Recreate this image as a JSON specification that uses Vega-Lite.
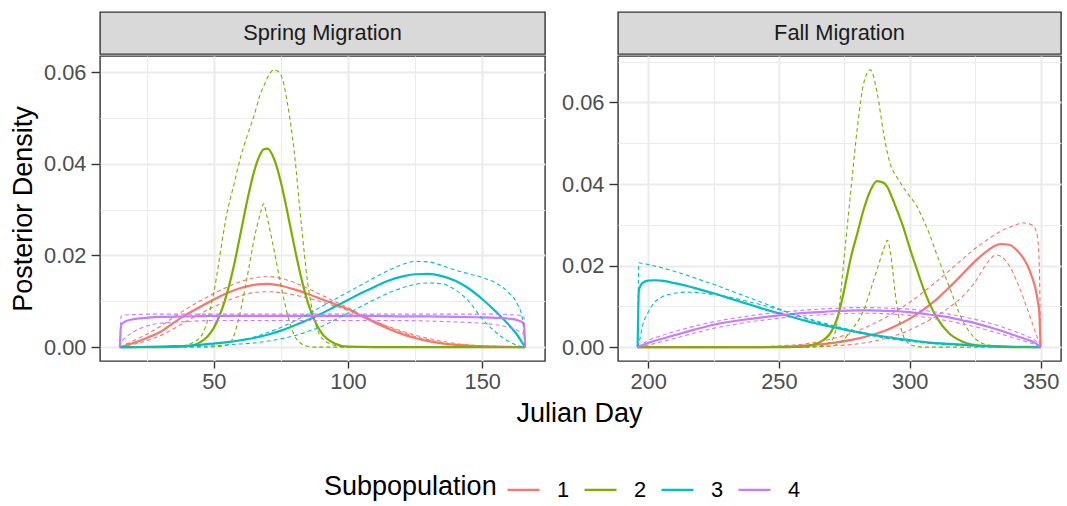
{
  "$schema": "https://vega.github.io/schema/vega-lite/v6.json",
  "background": "white",
  "padding": {"left": 8, "top": 11, "right": 5, "bottom": 5},
  "config": {
    "font": "Liberation Sans",
    "view": {"stroke": "#333333", "strokeWidth": 1.4},
    "axis": {
      "domain": false,
      "gridColor": "#ebebeb",
      "tickColor": "#333333",
      "tickWidth": 1.4,
      "tickSize": 7,
      "labelFont": "Liberation Sans",
      "labelFontSize": 21.8,
      "labelColor": "#4d4d4d",
      "labelPadding": 3,
      "labelFlush": false,
      "labelOverlap": false,
      "titleFont": "Liberation Sans",
      "titleFontSize": 27,
      "titleFontWeight": "normal",
      "titleColor": "black"
    },
    "axisY": {"tickSize": 9, "labelPadding": 5},
    "legend": {
      "direction": "horizontal",
      "titleOrient": "left",
      "titleAnchor": "middle",
      "titleBaseline": "middle",
      "titleFont": "Liberation Sans",
      "titleFontSize": 27,
      "titleFontWeight": "normal",
      "titleColor": "black",
      "labelFont": "Liberation Sans",
      "labelFontSize": 21.8,
      "labelColor": "black",
      "symbolType": "stroke",
      "symbolSize": 1024,
      "symbolStrokeWidth": 2.2,
      "labelOffset": 16,
      "columnPadding": 10,
      "titlePadding": 9,
      "padding": 0
    }
  },
  "datasets": {
    "spring": [
      {"g":"1","d":15,"m":0,"a":0,"b":0},
      {"g":"1","d":20,"m":0.0009,"a":0.0014,"b":0.0006},
      {"g":"1","d":25,"m":0.002,"a":0.0028,"b":0.0014},
      {"g":"1","d":30,"m":0.0033,"a":0.0045,"b":0.0025},
      {"g":"1","d":35,"m":0.0053,"a":0.0065,"b":0.004},
      {"g":"1","d":40,"m":0.0072,"a":0.0084,"b":0.0057},
      {"g":"1","d":45,"m":0.0088,"a":0.0101,"b":0.0073},
      {"g":"1","d":50,"m":0.0104,"a":0.0117,"b":0.0088},
      {"g":"1","d":55,"m":0.0118,"a":0.0131,"b":0.0101},
      {"g":"1","d":60,"m":0.0129,"a":0.0143,"b":0.0112},
      {"g":"1","d":65,"m":0.0136,"a":0.0151,"b":0.0119},
      {"g":"1","d":70,"m":0.0138,"a":0.0154,"b":0.0121},
      {"g":"1","d":75,"m":0.0134,"a":0.015,"b":0.0119},
      {"g":"1","d":80,"m":0.0126,"a":0.0141,"b":0.0114},
      {"g":"1","d":85,"m":0.0116,"a":0.0128,"b":0.0107},
      {"g":"1","d":90,"m":0.0105,"a":0.0114,"b":0.0099},
      {"g":"1","d":95,"m":0.0094,"a":0.01,"b":0.009},
      {"g":"1","d":100,"m":0.0083,"a":0.0086,"b":0.008},
      {"g":"1","d":105,"m":0.0068,"a":0.0071,"b":0.0068},
      {"g":"1","d":110,"m":0.0054,"a":0.0057,"b":0.0056},
      {"g":"1","d":115,"m":0.004,"a":0.0044,"b":0.0045},
      {"g":"1","d":120,"m":0.0029,"a":0.0033,"b":0.0035},
      {"g":"1","d":125,"m":0.002,"a":0.0023,"b":0.0026},
      {"g":"1","d":130,"m":0.0013,"a":0.0016,"b":0.0019},
      {"g":"1","d":135,"m":0.0008,"a":0.001,"b":0.0013},
      {"g":"1","d":140,"m":0.0005,"a":0.0006,"b":0.0008},
      {"g":"1","d":145,"m":0.0003,"a":0.0004,"b":0.0005},
      {"g":"1","d":150,"m":0.0002,"a":0.0002,"b":0.0003},
      {"g":"1","d":155,"m":0.0001,"a":0.0001,"b":0.0002},
      {"g":"1","d":160,"m":0.00005,"a":0.00005,"b":0.0001},
      {"g":"1","d":166,"m":0,"a":0,"b":0},

      {"g":"2","d":15,"m":0,"a":0,"b":0},
      {"g":"2","d":30,"m":0,"a":0,"b":0},
      {"g":"2","d":35,"m":0.00003,"a":0.0001,"b":0},
      {"g":"2","d":40,"m":0.0002,"a":0.0005,"b":0},
      {"g":"2","d":45,"m":0.0011,"a":0.0022,"b":0},
      {"g":"2","d":47.5,"m":0.0022,"a":0.0055,"b":0},
      {"g":"2","d":50,"m":0.0042,"a":0.012,"b":0.0001},
      {"g":"2","d":55,"m":0.0119,"a":0.0295,"b":0.0004},
      {"g":"2","d":57.5,"m":0.0178,"a":0.0355,"b":0.0025},
      {"g":"2","d":60,"m":0.0249,"a":0.0415,"b":0.008},
      {"g":"2","d":62.5,"m":0.0321,"a":0.0462,"b":0.0155},
      {"g":"2","d":65,"m":0.0383,"a":0.0505,"b":0.0235},
      {"g":"2","d":67.5,"m":0.0423,"a":0.0555,"b":0.0295},
      {"g":"2","d":68.5,"m":0.0431,"a":0.0568,"b":0.0313},
      {"g":"2","d":70,"m":0.0433,"a":0.0588,"b":0.028},
      {"g":"2","d":72.5,"m":0.041,"a":0.0605,"b":0.021},
      {"g":"2","d":75,"m":0.036,"a":0.0594,"b":0.0136},
      {"g":"2","d":77.5,"m":0.0292,"a":0.053,"b":0.007},
      {"g":"2","d":80,"m":0.022,"a":0.0425,"b":0.0026},
      {"g":"2","d":82.5,"m":0.0153,"a":0.0275,"b":0.0008},
      {"g":"2","d":85,"m":0.0098,"a":0.014,"b":0.0002},
      {"g":"2","d":87.5,"m":0.0059,"a":0.006,"b":0},
      {"g":"2","d":90,"m":0.0032,"a":0.0022,"b":0},
      {"g":"2","d":95,"m":0.0008,"a":0.0004,"b":0},
      {"g":"2","d":100,"m":0.0001,"a":0,"b":0},
      {"g":"2","d":110,"m":0,"a":0,"b":0},
      {"g":"2","d":166,"m":0,"a":0,"b":0},

      {"g":"3","d":15,"m":0,"a":0,"b":0},
      {"g":"3","d":20,"m":0.00002,"a":0.00002,"b":0},
      {"g":"3","d":25,"m":0.00005,"a":0.00005,"b":0.00001},
      {"g":"3","d":30,"m":0.0001,"a":0.0001,"b":0.00003},
      {"g":"3","d":35,"m":0.0002,"a":0.0002,"b":0.00005},
      {"g":"3","d":40,"m":0.0003,"a":0.0003,"b":0.0001},
      {"g":"3","d":45,"m":0.0005,"a":0.0005,"b":0.0002},
      {"g":"3","d":50,"m":0.0008,"a":0.0007,"b":0.0003},
      {"g":"3","d":55,"m":0.0011,"a":0.001,"b":0.0005},
      {"g":"3","d":60,"m":0.0015,"a":0.0015,"b":0.0007},
      {"g":"3","d":65,"m":0.002,"a":0.0022,"b":0.0009},
      {"g":"3","d":70,"m":0.0027,"a":0.0032,"b":0.0013},
      {"g":"3","d":75,"m":0.0036,"a":0.0043,"b":0.0018},
      {"g":"3","d":80,"m":0.0047,"a":0.0057,"b":0.0025},
      {"g":"3","d":85,"m":0.0059,"a":0.0072,"b":0.0034},
      {"g":"3","d":90,"m":0.0073,"a":0.0088,"b":0.0045},
      {"g":"3","d":95,"m":0.0088,"a":0.0104,"b":0.0059},
      {"g":"3","d":100,"m":0.0103,"a":0.012,"b":0.0074},
      {"g":"3","d":105,"m":0.0118,"a":0.0136,"b":0.0089},
      {"g":"3","d":110,"m":0.0132,"a":0.0152,"b":0.0104},
      {"g":"3","d":115,"m":0.0145,"a":0.0167,"b":0.0118},
      {"g":"3","d":120,"m":0.0154,"a":0.018,"b":0.0129},
      {"g":"3","d":125,"m":0.0159,"a":0.0187,"b":0.0137},
      {"g":"3","d":130,"m":0.016,"a":0.0186,"b":0.014},
      {"g":"3","d":135,"m":0.0155,"a":0.0178,"b":0.0138},
      {"g":"3","d":140,"m":0.0145,"a":0.0168,"b":0.0125},
      {"g":"3","d":145,"m":0.0128,"a":0.016,"b":0.01},
      {"g":"3","d":150,"m":0.0105,"a":0.0152,"b":0.0062},
      {"g":"3","d":155,"m":0.0078,"a":0.014,"b":0.0033},
      {"g":"3","d":160,"m":0.0048,"a":0.0118,"b":0.0012},
      {"g":"3","d":163,"m":0.0027,"a":0.0095,"b":0.0004},
      {"g":"3","d":165,"m":0.0009,"a":0.0062,"b":0.0001},
      {"g":"3","d":166,"m":0,"a":0,"b":0},

      {"g":"4","d":15,"m":0,"a":0,"b":0},
      {"g":"4","d":15.5,"m":0.0049,"a":0.0068,"b":0.001},
      {"g":"4","d":17,"m":0.0056,"a":0.007,"b":0.002},
      {"g":"4","d":20,"m":0.0061,"a":0.0071,"b":0.0033},
      {"g":"4","d":25,"m":0.0064,"a":0.0072,"b":0.0046},
      {"g":"4","d":30,"m":0.0066,"a":0.0072,"b":0.0052},
      {"g":"4","d":40,"m":0.0067,"a":0.0072,"b":0.0056},
      {"g":"4","d":50,"m":0.0068,"a":0.0072,"b":0.0058},
      {"g":"4","d":70,"m":0.0068,"a":0.0072,"b":0.0058},
      {"g":"4","d":90,"m":0.0068,"a":0.0072,"b":0.0058},
      {"g":"4","d":110,"m":0.0068,"a":0.0072,"b":0.0058},
      {"g":"4","d":120,"m":0.0067,"a":0.0072,"b":0.0058},
      {"g":"4","d":130,"m":0.0067,"a":0.0072,"b":0.0057},
      {"g":"4","d":140,"m":0.0066,"a":0.0072,"b":0.0055},
      {"g":"4","d":150,"m":0.0065,"a":0.0072,"b":0.0052},
      {"g":"4","d":155,"m":0.0064,"a":0.0072,"b":0.0049},
      {"g":"4","d":160,"m":0.0062,"a":0.0071,"b":0.0043},
      {"g":"4","d":163,"m":0.0059,"a":0.007,"b":0.0037},
      {"g":"4","d":165.5,"m":0.0052,"a":0.0068,"b":0.0027},
      {"g":"4","d":166,"m":0,"a":0,"b":0}
    ],
    "fall": [
      {"g":"1","d":196,"m":0,"a":0,"b":0},
      {"g":"1","d":240,"m":0,"a":0.0001,"b":0},
      {"g":"1","d":250,"m":0.0001,"a":0.0003,"b":0.00003},
      {"g":"1","d":260,"m":0.0004,"a":0.0008,"b":0.0001},
      {"g":"1","d":270,"m":0.001,"a":0.002,"b":0.0003},
      {"g":"1","d":280,"m":0.0021,"a":0.004,"b":0.0008},
      {"g":"1","d":285,"m":0.0029,"a":0.0054,"b":0.0013},
      {"g":"1","d":290,"m":0.0039,"a":0.007,"b":0.002},
      {"g":"1","d":295,"m":0.0053,"a":0.0089,"b":0.003},
      {"g":"1","d":300,"m":0.007,"a":0.011,"b":0.0042},
      {"g":"1","d":305,"m":0.0091,"a":0.0134,"b":0.0058},
      {"g":"1","d":310,"m":0.0116,"a":0.016,"b":0.0075},
      {"g":"1","d":315,"m":0.0146,"a":0.0187,"b":0.0097},
      {"g":"1","d":320,"m":0.0178,"a":0.0215,"b":0.0123},
      {"g":"1","d":325,"m":0.0211,"a":0.0242,"b":0.016},
      {"g":"1","d":330,"m":0.0238,"a":0.0265,"b":0.021},
      {"g":"1","d":333,"m":0.025,"a":0.0278,"b":0.0226},
      {"g":"1","d":335,"m":0.0253,"a":0.0285,"b":0.0222},
      {"g":"1","d":338,"m":0.0251,"a":0.0294,"b":0.02},
      {"g":"1","d":341,"m":0.0237,"a":0.0301,"b":0.016},
      {"g":"1","d":343,"m":0.0222,"a":0.0305,"b":0.0128},
      {"g":"1","d":345,"m":0.02,"a":0.0303,"b":0.0092},
      {"g":"1","d":346.5,"m":0.0176,"a":0.03,"b":0.0065},
      {"g":"1","d":348,"m":0.0145,"a":0.029,"b":0.0037},
      {"g":"1","d":349,"m":0.011,"a":0.026,"b":0.002},
      {"g":"1","d":349.5,"m":0.0085,"a":0.02,"b":0.0012},
      {"g":"1","d":350,"m":0,"a":0,"b":0},

      {"g":"2","d":196,"m":0,"a":0,"b":0},
      {"g":"2","d":250,"m":0,"a":0,"b":0},
      {"g":"2","d":255,"m":0.00003,"a":0,"b":0},
      {"g":"2","d":260,"m":0.0002,"a":0,"b":0},
      {"g":"2","d":265,"m":0.001,"a":0.0002,"b":0.0001},
      {"g":"2","d":270,"m":0.0038,"a":0.0015,"b":0.0003},
      {"g":"2","d":272.5,"m":0.0075,"a":0.007,"b":0.0008},
      {"g":"2","d":275,"m":0.0142,"a":0.0225,"b":0.002},
      {"g":"2","d":277.5,"m":0.022,"a":0.0385,"b":0.004},
      {"g":"2","d":280,"m":0.028,"a":0.054,"b":0.0062},
      {"g":"2","d":282.5,"m":0.034,"a":0.065,"b":0.0092},
      {"g":"2","d":285,"m":0.0385,"a":0.068,"b":0.014},
      {"g":"2","d":287.5,"m":0.0407,"a":0.0625,"b":0.019},
      {"g":"2","d":290,"m":0.0403,"a":0.0525,"b":0.024},
      {"g":"2","d":291.5,"m":0.0392,"a":0.0475,"b":0.0262},
      {"g":"2","d":292.5,"m":0.0378,"a":0.045,"b":0.0235},
      {"g":"2","d":295,"m":0.0338,"a":0.0418,"b":0.0105},
      {"g":"2","d":297.5,"m":0.0295,"a":0.0392,"b":0.0028},
      {"g":"2","d":300,"m":0.0243,"a":0.037,"b":0.0007},
      {"g":"2","d":302.5,"m":0.0195,"a":0.0348,"b":0.0002},
      {"g":"2","d":305,"m":0.0148,"a":0.0315,"b":0},
      {"g":"2","d":307.5,"m":0.0108,"a":0.0278,"b":0},
      {"g":"2","d":310,"m":0.0076,"a":0.0233,"b":0},
      {"g":"2","d":315,"m":0.0034,"a":0.015,"b":0},
      {"g":"2","d":320,"m":0.0014,"a":0.0068,"b":0},
      {"g":"2","d":325,"m":0.0005,"a":0.0021,"b":0},
      {"g":"2","d":330,"m":0.0002,"a":0.0005,"b":0},
      {"g":"2","d":340,"m":0,"a":0,"b":0},
      {"g":"2","d":350,"m":0,"a":0,"b":0},

      {"g":"3","d":196,"m":0,"a":0,"b":0},
      {"g":"3","d":196.5,"m":0.014,"a":0.0207,"b":0.001},
      {"g":"3","d":198,"m":0.0158,"a":0.0205,"b":0.0055},
      {"g":"3","d":200,"m":0.0163,"a":0.0203,"b":0.0085},
      {"g":"3","d":202.5,"m":0.0164,"a":0.0199,"b":0.011},
      {"g":"3","d":205,"m":0.0163,"a":0.0195,"b":0.0122},
      {"g":"3","d":210,"m":0.0157,"a":0.0186,"b":0.0132},
      {"g":"3","d":215,"m":0.015,"a":0.0176,"b":0.0135},
      {"g":"3","d":220,"m":0.0141,"a":0.0165,"b":0.0133},
      {"g":"3","d":225,"m":0.0132,"a":0.0154,"b":0.0129},
      {"g":"3","d":230,"m":0.0122,"a":0.0142,"b":0.0124},
      {"g":"3","d":235,"m":0.0112,"a":0.013,"b":0.0117},
      {"g":"3","d":240,"m":0.0102,"a":0.0118,"b":0.0109},
      {"g":"3","d":245,"m":0.0092,"a":0.0106,"b":0.0101},
      {"g":"3","d":250,"m":0.0083,"a":0.0094,"b":0.0092},
      {"g":"3","d":255,"m":0.0074,"a":0.0082,"b":0.0082},
      {"g":"3","d":260,"m":0.0065,"a":0.0071,"b":0.0072},
      {"g":"3","d":265,"m":0.0057,"a":0.0061,"b":0.0063},
      {"g":"3","d":270,"m":0.005,"a":0.0052,"b":0.0054},
      {"g":"3","d":275,"m":0.0043,"a":0.0044,"b":0.0046},
      {"g":"3","d":280,"m":0.0037,"a":0.0036,"b":0.0039},
      {"g":"3","d":285,"m":0.0031,"a":0.0029,"b":0.0032},
      {"g":"3","d":290,"m":0.0026,"a":0.0023,"b":0.0026},
      {"g":"3","d":295,"m":0.0021,"a":0.0018,"b":0.0021},
      {"g":"3","d":300,"m":0.0017,"a":0.0014,"b":0.0016},
      {"g":"3","d":305,"m":0.0013,"a":0.0011,"b":0.0012},
      {"g":"3","d":310,"m":0.001,"a":0.0008,"b":0.0009},
      {"g":"3","d":315,"m":0.0008,"a":0.0006,"b":0.0007},
      {"g":"3","d":320,"m":0.0006,"a":0.0004,"b":0.0005},
      {"g":"3","d":325,"m":0.0004,"a":0.0003,"b":0.0003},
      {"g":"3","d":330,"m":0.0003,"a":0.0002,"b":0.0002},
      {"g":"3","d":335,"m":0.0002,"a":0.0001,"b":0.0001},
      {"g":"3","d":340,"m":0.0001,"a":0.00005,"b":0.00005},
      {"g":"3","d":345,"m":0.00005,"a":0,"b":0},
      {"g":"3","d":350,"m":0,"a":0,"b":0},

      {"g":"4","d":196,"m":0,"a":0,"b":0},
      {"g":"4","d":200,"m":0.001,"a":0.0016,"b":0.0005},
      {"g":"4","d":205,"m":0.002,"a":0.0028,"b":0.0013},
      {"g":"4","d":210,"m":0.0029,"a":0.0038,"b":0.0021},
      {"g":"4","d":215,"m":0.0038,"a":0.0047,"b":0.003},
      {"g":"4","d":220,"m":0.0047,"a":0.0055,"b":0.0038},
      {"g":"4","d":225,"m":0.0055,"a":0.0062,"b":0.0046},
      {"g":"4","d":230,"m":0.0061,"a":0.0068,"b":0.0052},
      {"g":"4","d":235,"m":0.0066,"a":0.0073,"b":0.0058},
      {"g":"4","d":240,"m":0.007,"a":0.0078,"b":0.0063},
      {"g":"4","d":245,"m":0.0074,"a":0.0082,"b":0.0067},
      {"g":"4","d":250,"m":0.0078,"a":0.0085,"b":0.0071},
      {"g":"4","d":255,"m":0.0081,"a":0.0088,"b":0.0074},
      {"g":"4","d":260,"m":0.0084,"a":0.0091,"b":0.0077},
      {"g":"4","d":265,"m":0.0086,"a":0.0093,"b":0.0079},
      {"g":"4","d":270,"m":0.0088,"a":0.0095,"b":0.0081},
      {"g":"4","d":275,"m":0.0089,"a":0.0096,"b":0.0082},
      {"g":"4","d":280,"m":0.009,"a":0.0097,"b":0.0083},
      {"g":"4","d":285,"m":0.009,"a":0.0097,"b":0.0083},
      {"g":"4","d":290,"m":0.0089,"a":0.0096,"b":0.0082},
      {"g":"4","d":295,"m":0.0088,"a":0.0095,"b":0.008},
      {"g":"4","d":300,"m":0.0086,"a":0.0093,"b":0.0078},
      {"g":"4","d":305,"m":0.0082,"a":0.009,"b":0.0074},
      {"g":"4","d":310,"m":0.0078,"a":0.0086,"b":0.0069},
      {"g":"4","d":315,"m":0.0073,"a":0.0081,"b":0.0064},
      {"g":"4","d":320,"m":0.0066,"a":0.0075,"b":0.0057},
      {"g":"4","d":325,"m":0.0059,"a":0.0068,"b":0.005},
      {"g":"4","d":330,"m":0.005,"a":0.006,"b":0.0041},
      {"g":"4","d":335,"m":0.004,"a":0.005,"b":0.0032},
      {"g":"4","d":340,"m":0.0029,"a":0.0039,"b":0.0022},
      {"g":"4","d":345,"m":0.0018,"a":0.0026,"b":0.0012},
      {"g":"4","d":348,"m":0.001,"a":0.0016,"b":0.0006},
      {"g":"4","d":350,"m":0,"a":0,"b":0}
    ]
  },
  "resolve": {"scale": {"color": "shared"}, "legend": {"color": "shared"}},
  "spacing": 0,
  "vconcat": [
    {
      "spacing": 14,
      "resolve": {"scale": {"color": "shared"}},
      "hconcat": [
        {
          "spacing": 0,
          "vconcat": [
            {
              "data": {"values": [{"label": "Spring Migration"}]},
              "width": 445,
              "height": 42,
              "view": {"fill": "#d9d9d9", "stroke": "#333333", "strokeWidth": 1.4},
              "mark": {"type": "text", "fontSize": 21.8, "color": "#1a1a1a", "baseline": "middle", "align": "center"},
              "encoding": {"text": {"field": "label"}}
            },
            {
              "width": 445,
              "height": 305,
              "data": {"name": "spring"},
              "transform": [{"fold": ["m", "a", "b"], "as": ["k", "v"]}],
              "resolve": {"axis": {"x": "independent", "y": "independent"}},
              "layer": [
                {
                  "transform": [{"filter": "datum.k == 'm'"}],
                  "mark": {"type": "line", "strokeWidth": 2.2, "interpolate": "monotone", "clip": true},
                  "encoding": {
                    "x": {"field": "d", "type": "quantitative", "scale": {"domain": [7.6, 173.4], "nice": false, "zero": false},
                      "axis": {"orient": "bottom", "values": [50, 100, 150], "format": "d", "grid": true, "gridWidth": 2, "title": null}},
                    "y": {"field": "v", "type": "quantitative", "scale": {"domain": [-0.003025, 0.063525], "nice": false, "zero": false},
                      "axis": {"orient": "left", "values": [0, 0.02, 0.04, 0.06], "format": ".2f", "grid": true, "gridWidth": 2, "title": "Posterior Density", "titlePadding": 6}},
                    "color": {"field": "g", "type": "nominal", "title": "Subpopulation",
                      "scale": {"domain": ["1", "2", "3", "4"], "range": ["#F8766D", "#7CAE00", "#00BFC4", "#C77CFF"]},
                      "legend": {"orient": "none", "direction": "horizontal", "legendX": 224, "legendY": 460}}
                  }
                },
                {
                  "transform": [{"filter": "datum.k != 'm'"}],
                  "mark": {"type": "line", "strokeWidth": 1.1, "strokeDash": [4, 3], "interpolate": "monotone", "clip": true},
                  "encoding": {
                    "x": {"field": "d", "type": "quantitative", "scale": {"domain": [7.6, 173.4], "nice": false, "zero": false},
                      "axis": {"orient": "bottom", "values": [25, 75, 125], "grid": true, "gridWidth": 1.1, "labels": false, "ticks": false, "title": null}},
                    "y": {"field": "v", "type": "quantitative", "scale": {"domain": [-0.003025, 0.063525], "nice": false, "zero": false},
                      "axis": {"orient": "left", "values": [0.01, 0.03, 0.05], "grid": true, "gridWidth": 1.1, "labels": false, "ticks": false, "title": null}},
                    "color": {"field": "g", "type": "nominal",
                      "scale": {"domain": ["1", "2", "3", "4"], "range": ["#F8766D", "#7CAE00", "#00BFC4", "#C77CFF"]}},
                    "detail": {"field": "k"}
                  }
                }
              ]
            }
          ]
        },
        {
          "spacing": 0,
          "vconcat": [
            {
              "data": {"values": [{"label": "Fall Migration"}]},
              "width": 443,
              "height": 42,
              "view": {"fill": "#d9d9d9", "stroke": "#333333", "strokeWidth": 1.4},
              "mark": {"type": "text", "fontSize": 21.8, "color": "#1a1a1a", "baseline": "middle", "align": "center"},
              "encoding": {"text": {"field": "label"}}
            },
            {
              "width": 443,
              "height": 305,
              "data": {"name": "fall"},
              "transform": [{"fold": ["m", "a", "b"], "as": ["k", "v"]}],
              "resolve": {"axis": {"x": "independent", "y": "independent"}},
              "layer": [
                {
                  "transform": [{"filter": "datum.k == 'm'"}],
                  "mark": {"type": "line", "strokeWidth": 2.2, "interpolate": "monotone", "clip": true},
                  "encoding": {
                    "x": {"field": "d", "type": "quantitative", "scale": {"domain": [188.5, 357.8], "nice": false, "zero": false},
                      "axis": {"orient": "bottom", "values": [200, 250, 300, 350], "format": "d", "grid": true, "gridWidth": 2, "title": null}},
                    "y": {"field": "v", "type": "quantitative", "scale": {"domain": [-0.0034, 0.0714], "nice": false, "zero": false},
                      "axis": {"orient": "left", "values": [0, 0.02, 0.04, 0.06], "format": ".2f", "grid": true, "gridWidth": 2, "title": null}},
                    "color": {"field": "g", "type": "nominal", "title": "Subpopulation",
                      "scale": {"domain": ["1", "2", "3", "4"], "range": ["#F8766D", "#7CAE00", "#00BFC4", "#C77CFF"]},
                      "legend": {"orient": "none", "direction": "horizontal", "legendX": 224, "legendY": 460}}
                  }
                },
                {
                  "transform": [{"filter": "datum.k != 'm'"}],
                  "mark": {"type": "line", "strokeWidth": 1.1, "strokeDash": [4, 3], "interpolate": "monotone", "clip": true},
                  "encoding": {
                    "x": {"field": "d", "type": "quantitative", "scale": {"domain": [188.5, 357.8], "nice": false, "zero": false},
                      "axis": {"orient": "bottom", "values": [225, 275, 325], "grid": true, "gridWidth": 1.1, "labels": false, "ticks": false, "title": null}},
                    "y": {"field": "v", "type": "quantitative", "scale": {"domain": [-0.0034, 0.0714], "nice": false, "zero": false},
                      "axis": {"orient": "left", "values": [0.01, 0.03, 0.05, 0.07], "grid": true, "gridWidth": 1.1, "labels": false, "ticks": false, "title": null}},
                    "color": {"field": "g", "type": "nominal",
                      "scale": {"domain": ["1", "2", "3", "4"], "range": ["#F8766D", "#7CAE00", "#00BFC4", "#C77CFF"]}},
                    "detail": {"field": "k"}
                  }
                }
              ]
            }
          ]
        }
      ]
    },
    {
      "data": {"values": [{"t": "Julian Day"}]},
      "width": 959,
      "height": 40,
      "view": {"stroke": null},
      "mark": {"type": "text", "fontSize": 27, "color": "black", "baseline": "middle", "align": "center"},
      "encoding": {"text": {"field": "t"}}
    }
  ]
}
